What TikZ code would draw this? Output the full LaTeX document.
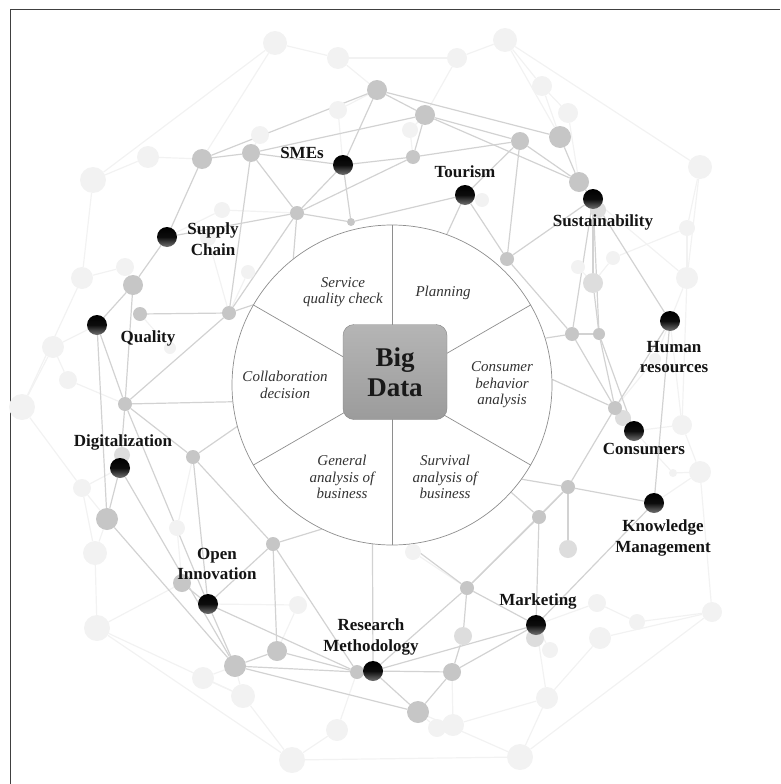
\documentclass[tikz,border=0pt]{standalone}
\usepackage{fontspec}
\setmainfont{Liberation Serif}
\usetikzlibrary{positioning,backgrounds}
\definecolor{netnode}{HTML}{C6C6C6}
\definecolor{netline}{HTML}{D2D2D2}
\definecolor{netlight}{HTML}{DDDDDD}
\definecolor{netfaint}{HTML}{F2F2F2}
\definecolor{rim}{HTML}{8E8E8E}
\tikzstyle{link} = [draw=netline, line width=1.2pt]
\tikzstyle{faintlink} = [draw=netfaint, line width=1.2pt]
\tikzstyle{topic} = [font=\fontsize{17}{20.5}\selectfont\bfseries, text=black!92, align=center, inner sep=0pt]
\tikzstyle{sector} = [font=\fontsize{15}{16.5}\selectfont\itshape, text=black!80, align=center, inner sep=0pt]

\begin{document}
\begin{tikzpicture}[x=1pt, y=-1pt,
dot/.style={circle, inner sep=0pt, minimum size=#1},
netmid/.style={dot=#1, fill=netnode},
netlt/.style={dot=#1, fill=netlight},
netfnt/.style={dot=#1, fill=netfaint},
keydot/.style={dot=20pt, top color=black, bottom color=black!55, middle color=black!95},
wheelcirc/.style={circle, draw=rim, line width=0.7pt, fill=white, minimum size=320pt, inner sep=0pt},
divider/.style={draw=rim, line width=0.7pt},
bigbox/.style={rounded corners=11pt, minimum width=104pt, minimum height=95pt, top color=gray!58, bottom color=gray!78, draw=gray!95, font=\fontsize{27}{30}\selectfont\bfseries, align=center, text=black!90}]

\useasboundingbox (0,0) rectangle (780,784);
\draw[black!75, line width=1pt] (10,784) -- (10,10) -- (780,10);

\node[wheelcirc] (wheel) at (392,385) {};

\foreach \n/\x/\y/\s in {f1/275/43/24, f2/338/58/22, f3/505/40/24, f4/457/58/20, f5/542/86/20, f6/568/113/20,
  f7/148/157/22, f8/93/180/26, f9/260/135/18, f10/338/110/18, f11/410/130/16, f12/222/210/16, f13/208/238/16,
  f14/482/200/14, f15/82/278/22, f16/125/267/18, f17/53/347/22, f18/68/380/18, f19/22/407/26, f20/248/272/14,
  f21/170/348/12, f22/82/488/18, f23/95/553/24, f24/177/528/16, f25/97/628/26, f26/298/605/18, f27/203/678/22,
  f28/243/696/24, f29/337/730/22, f30/292/760/26, f31/437/728/18, f32/453/725/22, f33/520/757/26, f34/547/698/22,
  f35/597/603/18, f36/600/638/22, f37/637/622/16, f38/712/612/20, f39/700/472/22, f40/673/473/8, f41/682/425/20,
  f42/655/359/12, f43/687/278/22, f44/700/167/24, f45/687/228/16, f46/613/258/14, f47/578/267/14, f48/413/552/16,
  f49/550/650/16}
  \node[netfnt=\s pt] (\n) at (\x,\y) {};

\foreach \n/\x/\y/\s in {l1/598/210/16, l2/122/455/16, l3/623/418/16, l4/535/638/18, l5/568/549/18,
  d1/593/283/20, c5/463/636/18}
  \node[netlt=\s pt] (\n) at (\x,\y) {};

\foreach \n/\x/\y/\s in {a1/377/90/20, a2/425/115/20, a3/520/141/18, a4/560/137/22, a5/579/182/20,
  a6/202/159/20, a7/251/153/18, a8/413/157/14, a9/297/213/14, a10/351/222/8, a11/507/259/14,
  b1/133/285/20, b2/140/314/14, b3/229/313/14, b4/125/404/14, b5/193/457/14, b6/107/519/22, b7/273/544/14,
  b8/182/583/18, c1/235/666/22, c2/277/651/20, c3/357/672/14, c4/467/588/14, c6/452/672/18, c7/418/712/22,
  c8/539/517/14, d2/572/334/14, d3/599/334/12, d4/615/408/14, d5/568/487/14}
  \node[netmid=\s pt] (\n) at (\x,\y) {};

\foreach \n/\x/\y in {sme/343/165, tour/465/195, sust/593/199, hum/670/321, cons/634/431, know/654/503,
  mark/536/625, res/373/671, open/208/604, digi/120/468, qual/97/325, supp/167/237}
  \node[keydot] (\n) at (\x,\y) {};

\begin{scope}[on background layer]
\foreach \p/\q in {f1/f2, f2/f4, f4/f3, f3/f5, f5/f6, f1/f8, f8/f7, f7/a6, f8/f15, f15/f19, f17/f19, f19/f22,
  f22/f23, f23/f25, f25/f30, f25/f28, f28/f30, f30/f33, f33/f34, f33/f38, f34/f36, f36/f38, f38/f39, f39/f41,
  f41/f43, f43/f44, f44/f3, f44/f45, f45/f43, f1/a6, f2/a1, f3/a4, f4/a2, f5/a4, f6/a5, f9/a7, f10/a1, f10/sme,
  f11/a2, f11/a8, f12/a9, f12/supp, f14/tour, f16/b1, f16/f15, f17/qual, f18/b4, f18/f17, f20/b3, f21/b2,
  f22/digi, f22/b6, f23/b6, f24/b5, f24/b8, f25/b8, f26/open, f26/c2, f27/c1, f27/f28, f28/c1, f29/c3, f29/f30,
  f31/c7, f32/c6, f32/f34, f33/c7, f34/mark, f35/mark, f35/f37, f37/f38, f39/know, f40/f39, f40/cons, f41/cons,
  f41/hum, f42/hum, f42/d4, f43/hum, f45/f46, f46/d1, f47/d1, f48/c4, f49/mark, b3/f13, sust/f43}
  \draw[faintlink] (\p) -- (\q);
\foreach \p/\q in {a6/a7, a7/sme, a6/a1, a7/a2, a1/a2, a1/sme, a1/a4, a2/a8, a2/a3, a2/a5, a8/sme, a8/a3,
  a8/a9, sme/a9, sme/a10, a9/a10, a9/a7, a10/tour, tour/a3, tour/a11, tour/wheel.70, a3/a11, a3/a5, a4/a5,
  a5/sust, a11/sust, a11/d2, a6/supp, a7/b3, a9/b3, a9/supp, a9/wheel.128,
  supp/b1, b1/qual, b1/b4, b2/b3, b3/b4, b3/wheel.150, qual/b4, qual/b6, b4/wheel.186, b4/digi, b4/b5,
  b4/open, b5/b7, b5/wheel.195, b5/open, digi/b6, digi/c1, b6/c1, b7/open, b7/c2, b7/c3, b7/wheel.244,
  open/c1, open/c3, open/b8, c1/c2, c1/c3, c1/c7, c2/c3, c3/res, res/c6, res/c7, res/c4, res/mark,
  res/wheel.263, c4/c5, c4/mark, c4/wheel.276, c4/c8, c6/mark, c6/c7, c5/c6, mark/c8, c8/d5, c8/wheel.318,
  sust/d1, sust/d2, sust/d3, sust/hum, d1/d3, d2/d3, d2/d4, d3/cons, d3/d4, d2/wheel.17, hum/d4, hum/know,
  d4/d5, d4/cons, d4/wheel.2, d5/know, d5/wheel.324, d5/l5, d5/c4, know/mark}
  \draw[link] (\p) -- (\q);
\end{scope}

\foreach \a in {30,90,150,210,270,330}
  \draw[divider] (wheel.center) -- (wheel.\a);
\node[bigbox] (bigdata) at (395,372) {Big\\Data};

\node[sector] (service) at (343,292) {Service\\quality check};
\node[sector] (planning) at (443,293) {Planning};
\node[sector] (consumer) at (502,385) {Consumer\\behavior\\analysis};
\node[sector] (survival) at (445,477) {Survival\\analysis of\\business};
\node[sector] (general) at (342,477) {General\\analysis of\\business};
\node[sector] (collab) at (285,385) {Collaboration\\decision};

\node[topic] (smeLab) at (302,153) {SMEs};
\node[topic] (tourLab) at (465,172) {Tourism};
\node[topic] (sustLab) at (603,222) {Sustainability};
\node[topic] (humLab) at (674,357) {Human\\resources};
\node[topic] (consLab) at (644,449) {Consumers};
\node[topic] (knowLab) at (663,538) {Knowledge\\Management};
\node[topic] (markLab) at (538,601) {Marketing};
\node[topic] (resLab) at (371,637) {Research\\Methodology};
\node[topic] (openLab) at (217,564) {Open\\Innovation};
\node[topic] (digiLab) at (123,442) {Digitalization};
\node[topic] (qualLab) at (148,338) {Quality};
\node[topic] (suppLab) at (213,239) {Supply\\Chain};
\end{tikzpicture}
\end{document}
